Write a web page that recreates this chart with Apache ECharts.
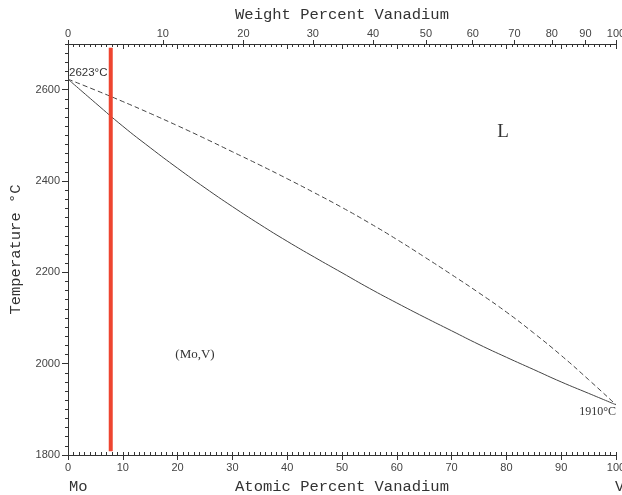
<!DOCTYPE html>
<html>
<head>
<meta charset="utf-8">
<script src="https://cdn.jsdelivr.net/npm/echarts@6/dist/echarts.min.js"></script>
<style>
  html, body { margin: 0; padding: 0; background: #fff; }
  #main { width: 622px; height: 495px; }
</style>
</head>
<body>
<div id="main"></div>
<script>
// Mo-V phase diagram data
var atPct = [0, 5, 10, 15, 20, 25, 30, 35, 40, 45, 50, 55, 60, 65, 70, 75, 80, 85, 90, 95, 100];
var solidus = [2623, 2571, 2520, 2473, 2428, 2385, 2344, 2305, 2268, 2233, 2199, 2165, 2133, 2102, 2072, 2042, 2014, 1987, 1960, 1935, 1910];
var liquidus = [2623, 2599, 2574, 2548, 2521, 2493, 2464, 2435, 2405, 2374, 2342, 2308, 2272, 2234, 2195, 2155, 2113, 2067, 2018, 1965, 1910];
var markerAt = 7.8;
var markerRange = [1808, 2692];
var yTicks = [1800, 2000, 2200, 2400, 2600];
var wtTicks = [0, 10, 20, 30, 40, 50, 60, 70, 80, 90, 100];

var M_V = 50.9415, M_MO = 95.95;
function wtToAt(w) {
    var v = w / M_V, m = (100 - w) / M_MO;
    return v / (v + m) * 100;
}
function atToWt(a) {
    var v = a * M_V, m = (100 - a) * M_MO;
    return v / (v + m) * 100;
}
var wtPos = wtTicks.map(wtToAt);

function pairs(ys) {
    return atPct.map(function (x, i) { return [x, ys[i]]; });
}

var lineCol = '#333';
var tickFont = { color: '#444', fontSize: 11, fontFamily: 'Liberation Sans' };
var nameFont = { color: '#333', fontSize: 15.5, fontFamily: 'Liberation Mono' };

var chart = echarts.init(document.getElementById('main'));

var option = {
    animation: false,
    grid: { left: 68, right: 6, top: 44, bottom: 40, containLabel: false, outerBoundsMode: 'none' },
    xAxis: [{
        // bottom, atomic percent
        type: 'value', position: 'bottom', min: 0, max: 100, interval: 10,
        name: 'Atomic Percent Vanadium', nameLocation: 'middle', nameGap: 24,
        nameTextStyle: nameFont,
        axisLine: { show: true, lineStyle: { color: lineCol, width: 1 } },
        axisTick: { show: true, length: 5, lineStyle: { color: lineCol } },
        axisLabel: Object.assign({ margin: 7 }, tickFont),
        splitLine: { show: false }
    }, {
        // bottom minor ticks, inside
        type: 'value', position: 'bottom', min: 0, max: 100, interval: 1,
        axisLine: { show: false },
        axisTick: { show: true, inside: true, length: 3, lineStyle: { color: lineCol } },
        axisLabel: { show: false },
        splitLine: { show: false }
    }, {
        // top frame, atomic percent ticks inside
        type: 'value', position: 'top', min: 0, max: 100, interval: 10,
        axisLine: { show: true, lineStyle: { color: lineCol, width: 1 } },
        axisTick: { show: true, inside: true, length: 5, lineStyle: { color: lineCol } },
        minorTick: { show: true, splitNumber: 10, length: 3, lineStyle: { color: lineCol } },
        axisLabel: { show: false },
        splitLine: { show: false }
    }, {
        // top, weight percent
        type: 'value', position: 'top', min: 0, max: 100,
        name: 'Weight Percent Vanadium', nameLocation: 'middle', nameGap: 21,
        nameTextStyle: nameFont,
        axisLine: { show: false },
        axisTick: { show: true, length: 4, customValues: wtPos, lineStyle: { color: lineCol } },
        axisLabel: Object.assign({
            margin: 5,
            customValues: wtPos,
            formatter: function (v) { return String(Math.round(atToWt(v))); }
        }, tickFont),
        splitLine: { show: false }
    }],
    yAxis: [{
        type: 'value', position: 'left', min: 1800, max: 2700,
        name: 'Temperature °C', nameLocation: 'middle', nameGap: 44, nameRotate: 90,
        nameTextStyle: nameFont,
        axisLine: { show: true, lineStyle: { color: lineCol, width: 1 } },
        axisTick: { show: true, length: 6, customValues: yTicks, lineStyle: { color: lineCol } },
        axisLabel: Object.assign({
            margin: 8,
            customValues: yTicks,
            formatter: function (v) { return String(v); }
        }, tickFont),
        splitLine: { show: false }
    }, {
        // left minor ticks
        type: 'value', position: 'left', min: 1800, max: 2700, interval: 20,
        axisLine: { show: false },
        axisTick: { show: true, length: 2, lineStyle: { color: lineCol } },
        axisLabel: { show: false },
        splitLine: { show: false }
    }, {
        // right frame
        type: 'value', position: 'right', min: 1800, max: 2700, interval: 20,
        axisLine: { show: true, lineStyle: { color: lineCol, width: 1 } },
        axisTick: { show: true, inside: true, length: 3, lineStyle: { color: lineCol } },
        axisLabel: { show: false },
        splitLine: { show: false }
    }],
    series: [{
        name: 'solidus', type: 'line', smooth: true, symbol: 'none',
        data: pairs(solidus),
        lineStyle: { color: '#444', width: 1 }
    }, {
        name: 'liquidus', type: 'line', smooth: true, symbol: 'none',
        data: pairs(liquidus),
        lineStyle: { color: '#444', width: 1, type: [5, 3] }
    }, {
        name: 'marker', type: 'line', symbol: 'none', z: 5,
        data: [[markerAt, markerRange[0]], [markerAt, markerRange[1]]],
        lineStyle: { color: '#ee4530', width: 4 }
    }],
    graphic: [
        { type: 'text', x: 69, y: 73, style: { text: '2623°C', fill: '#333', font: '11.5px "Liberation Sans"', textAlign: 'left', textVerticalAlign: 'middle' } },
        { type: 'text', x: 616, y: 412, style: { text: '1910°C', fill: '#333', font: '12px "Liberation Serif"', textAlign: 'right', textVerticalAlign: 'middle' } },
        { type: 'text', x: 503, y: 132, style: { text: 'L', fill: '#333', font: '19px "Liberation Serif"', textAlign: 'center', textVerticalAlign: 'middle' } },
        { type: 'text', x: 195, y: 355, style: { text: '(Mo,V)', fill: '#333', font: '13px "Liberation Serif"', textAlign: 'center', textVerticalAlign: 'middle' } },
        { type: 'text', x: 69, y: 487, style: { text: 'Mo', fill: '#333', font: '15.5px "Liberation Mono"', textAlign: 'left', textVerticalAlign: 'middle' } },
        { type: 'text', x: 615, y: 487, style: { text: 'V', fill: '#333', font: '15.5px "Liberation Mono"', textAlign: 'left', textVerticalAlign: 'middle' } }
    ]
};

chart.setOption(option);
</script>
</body>
</html>
